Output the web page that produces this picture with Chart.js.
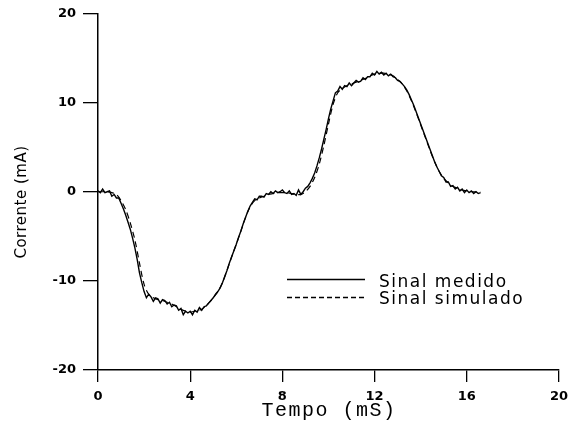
<!DOCTYPE html>
<html>
<head>
<meta charset="utf-8">
<script src="https://cdn.jsdelivr.net/npm/chart.js@4.4.0/dist/chart.umd.min.js"></script>
<style>
html, body { margin: 0; padding: 0; background: #fff; }
#wrap { width: 575px; height: 421px; }
</style>
</head>
<body>
<div id="wrap"><canvas id="myChart"></canvas></div>
<script>
// Sinal medido, one sample every 0.1 ms from 0 to 16.6 ms
const stepMedido = 0.1;
const medido = [
	0.1, -0.1, 0.3, -0.1, 0.0, 0.1, -0.5, -0.3, -0.7, -0.7,
	-1.3, -1.9, -2.6, -3.4, -4.2, -5.2, -6.3, -7.6, -9.1, -10.2,
	-11.2, -11.9, -11.5, -11.8, -12.3, -11.9, -12.0, -12.5, -12.1, -12.2,
	-12.6, -12.4, -12.9, -12.7, -12.8, -13.3, -13.1, -13.8, -13.4, -13.6,
	-13.4, -13.8, -13.3, -13.5, -13.0, -13.3, -12.9, -12.8, -12.5, -12.2,
	-11.9, -11.5, -11.2, -10.8, -10.2, -9.5, -8.8, -8.0, -7.3, -6.6,
	-5.9, -5.1, -4.4, -3.6, -2.9, -2.2, -1.6, -1.2, -0.8, -0.9,
	-0.5, -0.5, -0.6, -0.2, -0.3, 0.0, -0.2, 0.1, -0.1, 0.0,
	0.2, -0.1, -0.2, 0.1, -0.3, -0.2, -0.4, 0.2, -0.3, 0.0,
	0.4, 0.6, 1.0, 1.5, 2.1, 2.9, 3.8, 4.8, 5.9, 7.0,
	8.2, 9.3, 10.2, 11.1, 11.3, 11.8, 11.5, 11.9, 11.8, 12.2,
	11.9, 12.2, 12.5, 12.3, 12.4, 12.8, 12.6, 12.9, 12.9, 13.3,
	13.1, 13.5, 13.2, 13.4, 13.1, 13.3, 13.0, 13.2, 12.9, 12.8,
	12.5, 12.4, 12.1, 11.8, 11.4, 10.9, 10.3, 9.7, 9.0, 8.3,
	7.6, 6.9, 6.2, 5.5, 4.8, 4.1, 3.4, 2.8, 2.3, 1.8,
	1.6, 1.1, 1.1, 0.6, 0.7, 0.3, 0.5, 0.1, 0.3, -0.1,
	0.2, -0.1, 0.1, -0.2, 0.0, -0.2, -0.1
];

// Sinal simulado, one sample every 0.2 ms
const stepSimulado = 0.2;
const simulado = [
	0, 0, 0, -0.1, -0.3, -1.0, -2.0, -3.5, -5.4, -8.0,
	-10.4, -11.5, -11.9, -12.1, -12.2, -12.4, -12.6, -12.9, -13.2, -13.4,
	-13.5, -13.4, -13.3, -13.0, -12.5, -11.9, -11.2, -10.2, -8.8, -7.3,
	-5.9, -4.4, -2.9, -1.7, -1.0, -0.7, -0.5, -0.3, -0.2, -0.1,
	-0.1, -0.1, -0.2, -0.3, -0.3, 0.0, 0.6, 1.6, 3.1, 5.2,
	7.6, 9.8, 11.1, 11.6, 11.9, 12.1, 12.3, 12.5, 12.7, 13.0,
	13.2, 13.3, 13.3, 13.2, 13.0, 12.6, 12.1, 11.3, 10.2, 8.9,
	7.5, 6.1, 4.7, 3.4, 2.3, 1.5, 1.0, 0.6, 0.4, 0.2,
	0.1, 0, 0, 0
];

const xTicks = [0, 4, 8, 12, 16, 20];
const yTicks = [-20, -10, 0, 10, 20];
const seriesNames = ['Sinal medido', 'Sinal simulado'];
const xTitle = 'Tempo (mS)';
const yTitle = 'Corrente (mA)';

function toPoints(values, step){
	let pts = [];
	for(let i=0; i<values.length; i++){
		pts.push({x: Math.round(i*step*10)/10, y: values[i]});
	}
	return pts;
}

// legend + axis titles drawn by hand
const extraText = {
	id: 'extraText',
	afterDraw(chart){
		const c = chart.ctx;
		c.save();
		c.strokeStyle = '#000';
		c.fillStyle = '#000';
		c.lineWidth = 1.3;
		// legend
		c.beginPath();
		c.moveTo(287, 279.5); c.lineTo(365, 279.5);
		c.stroke();
		c.setLineDash([5, 3]);
		c.beginPath();
		c.moveTo(287, 297.5); c.lineTo(365, 297.5);
		c.stroke();
		c.setLineDash([]);
		c.font = '17px "DejaVu Sans"';
		c.letterSpacing = '1.5px';
		c.textAlign = 'left';
		c.textBaseline = 'alphabetic';
		c.fillText(seriesNames[0], 379, 287);
		c.fillText(seriesNames[1], 379, 304);
		// x title
		c.font = '20px "Liberation Mono"';
		c.letterSpacing = '1.5px';
		c.textAlign = 'center';
		c.fillText(xTitle, 329, 416);
		// y title
		c.font = '15px "DejaVu Sans"';
		c.letterSpacing = '0.5px';
		c.translate(26, 202);
		c.rotate(-Math.PI/2);
		c.fillText(yTitle, 0, 0);
		c.restore();
	}
};

const ctx = document.getElementById('myChart');

const myChart = new Chart(ctx, {
	type: 'line',
	data: {
		datasets: [{
			label: seriesNames[1],
			data: toPoints(simulado, stepSimulado),
			borderColor: '#000',
			borderWidth: 1.2,
			borderDash: [6, 4],
			pointRadius: 0,
			tension: 0.3
		}, {
			label: seriesNames[0],
			data: toPoints(medido, stepMedido),
			borderColor: '#000',
			borderWidth: 1.4,
			pointRadius: 0,
			tension: 0
		}]
	},
	options: {
		responsive: true,
		maintainAspectRatio: false,
		animation: false,
		devicePixelRatio: 1,
		layout: {padding: {top: 4, right: 15, left: 0, bottom: 0}},
		plugins: {legend: {display: false}, tooltip: {enabled: false}},
		scales: {
			x: {
				type: 'linear',
				min: 0, max: 20,
				afterFit(scale){ scale.height = 51; },
				afterBuildTicks(scale){ scale.ticks = xTicks.map(v => ({value: v})); },
				ticks: {color: '#000', padding: 7, font: {family: 'DejaVu Sans', size: 13, weight: 'bold'}},
				grid: {drawOnChartArea: false, drawTicks: true, tickLength: 12, color: '#000', lineWidth: 1.3},
				border: {display: true, color: '#000', width: 1.5}
			},
			y: {
				type: 'linear',
				min: -20, max: 20,
				afterFit(scale){ scale.width = 98; },
				afterBuildTicks(scale){ scale.ticks = yTicks.map(v => ({value: v})); },
				ticks: {color: '#000', padding: 7, font: {family: 'DejaVu Sans', size: 13, weight: 'bold', lineHeight: 1}},
				grid: {drawOnChartArea: false, drawTicks: true, tickLength: 15, color: '#000', lineWidth: 1.3},
				border: {display: true, color: '#000', width: 1.5}
			}
		}
	},
	plugins: [extraText]
});
</script>
</body>
</html>
